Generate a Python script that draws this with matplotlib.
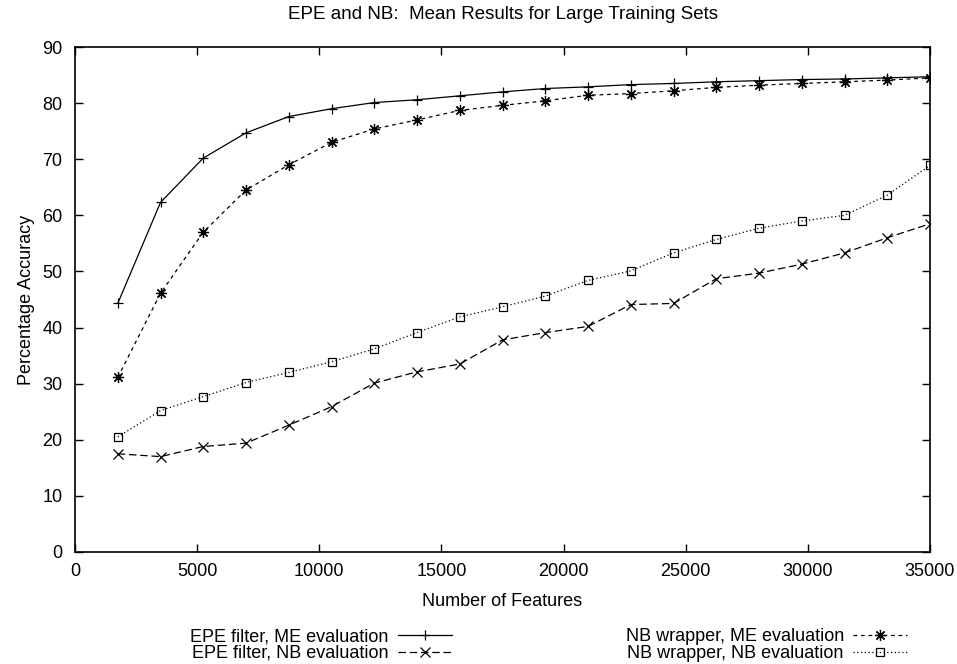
import matplotlib.pyplot as plt
import numpy as np

plt.rcParams['font.family'] = ['Liberation Sans', 'DejaVu Sans']
plt.rcParams['font.size'] = 13

# number of features used (step of 1750)
features = [1750, 3500, 5250, 7000, 8750, 10500, 12250, 14000, 15750, 17500,
            19250, 21000, 22750, 24500, 26250, 28000, 29750, 31500, 33250, 35000]

epe_me = [44.3, 62.3, 70.2, 74.7, 77.6, 79.0, 80.1, 80.6, 81.3, 82.0,
          82.6, 82.9, 83.3, 83.5, 83.8, 84.0, 84.2, 84.3, 84.5, 84.7]
epe_nb = [17.5, 17.0, 18.8, 19.4, 22.6, 25.9, 30.1, 32.1, 33.5, 37.8,
          39.1, 40.2, 44.1, 44.3, 48.7, 49.7, 51.3, 53.3, 56.0, 58.5]
nbw_me = [31.1, 46.1, 57.0, 64.5, 69.0, 73.0, 75.4, 77.0, 78.7, 79.6,
          80.4, 81.4, 81.7, 82.2, 82.8, 83.2, 83.5, 83.8, 84.1, 84.5]
nbw_nb = [20.5, 25.2, 27.7, 30.2, 32.0, 33.9, 36.2, 39.1, 41.9, 43.7,
          45.6, 48.4, 50.1, 53.3, 55.7, 57.7, 59.0, 60.0, 63.6, 68.9]

W, H = 957, 664
fig = plt.figure(figsize=(W / 100, H / 100), dpi=100)
ax = fig.add_axes([75 / W, (H - 552) / H, (930 - 75) / W, (552 - 47) / H])

star = (8, 2, 0)
lw = 0.9
l1, = ax.plot(features, epe_me, color='black', lw=lw, ls='-',
              marker='+', ms=7.5, mew=lw, label='EPE filter, ME evaluation')
l2, = ax.plot(features, epe_nb, color='black', lw=lw, ls=(0, (6, 3)),
              marker='x', ms=6.5, mew=lw, label='EPE filter, NB evaluation')
l3, = ax.plot(features, nbw_me, color='black', lw=lw, ls=(0, (3, 3)),
              marker=star, ms=8, mew=lw, label='NB wrapper, ME evaluation')
l4, = ax.plot(features, nbw_nb, color='black', lw=lw, ls=(0, (1, 2)),
              marker='s', ms=6, mew=lw, mfc='none', label='NB wrapper, NB evaluation')

ax.set_xlim(0, 35000)
ax.set_ylim(0, 90)
ax.set_xticks(np.arange(0, 35001, 5000))
ax.set_yticks(np.arange(0, 91, 10))
ax.tick_params(direction='in', length=6, width=1, top=True, right=True,
               labelsize=13)
ax.tick_params(axis='x', pad=8)
ax.tick_params(axis='y', pad=9)
for s in ax.spines.values():
    s.set_linewidth(1.2)

ax.set_xlabel('Number of Features', labelpad=9)
ax.set_ylabel('Percentage Accuracy', labelpad=5)
ax.set_title('EPE and NB:  Mean Results for Large Training Sets',
             fontsize=13.5, pad=20)

# legend at bottom, two columns, text before sample line
leg_kw = dict(frameon=False, markerfirst=False, handlelength=3.0,
              handletextpad=0.5, labelspacing=0.0, borderpad=0,
              borderaxespad=0, fontsize=13)
leg1 = fig.legend(handles=[l1, l2], loc='upper right',
                  bbox_to_anchor=(452 / W, 1 - 628 / H), **leg_kw)
leg2 = fig.legend(handles=[l3, l4], loc='upper right',
                  bbox_to_anchor=(907 / W, 1 - 628 / H), **leg_kw)

fig.savefig('out.png', dpi=100)
